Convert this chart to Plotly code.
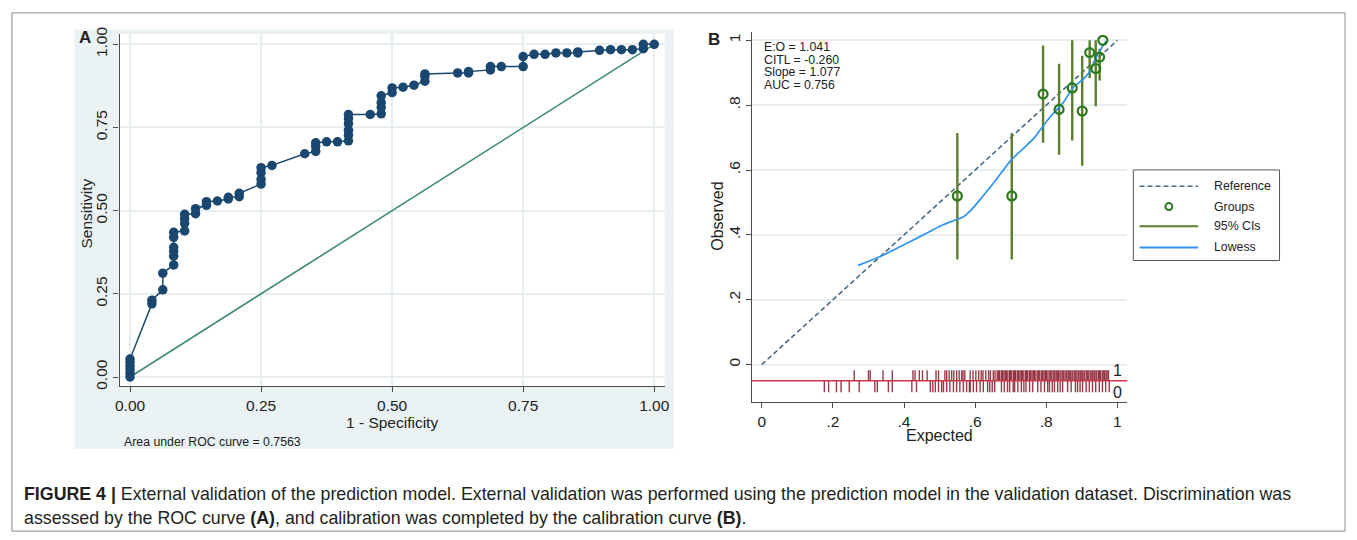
import plotly.graph_objects as go

W, H = 1357, 540

# ---------------- Panel A : ROC curve ----------------
roc_fpr = [0, 0, 0, 0, 0, 0,
           0.0417, 0.0417, 0.0625, 0.0625,
           0.0833, 0.0833, 0.0833, 0.0833, 0.0833, 0.0833,
           0.1042, 0.1042, 0.1042, 0.1042, 0.125, 0.125,
           0.1458, 0.1458, 0.1667, 0.1875, 0.1875, 0.2083, 0.2083,
           0.25, 0.25, 0.25, 0.25, 0.2708, 0.3333,
           0.3542, 0.3542, 0.3542, 0.375, 0.3958,
           0.4167, 0.4167, 0.4167, 0.4167, 0.4167, 0.4167,
           0.4583, 0.4792, 0.4792, 0.4792, 0.4792,
           0.5, 0.5, 0.5208, 0.5417, 0.5625, 0.5625, 0.5625,
           0.625, 0.6458, 0.6458, 0.6875, 0.6875, 0.7083,
           0.75, 0.75, 0.7708, 0.7917, 0.8125, 0.8333, 0.8542, 0.8542,
           0.8958, 0.9167, 0.9375, 0.9583, 0.9792, 0.9792, 1.0]
roc_tpr = [0, 0.011, 0.022, 0.033, 0.044, 0.054,
           0.22, 0.231, 0.262, 0.312,
           0.337, 0.363, 0.378, 0.39, 0.42, 0.435,
           0.439, 0.462, 0.476, 0.489, 0.491, 0.506,
           0.516, 0.527, 0.529, 0.535, 0.54, 0.542, 0.552,
           0.58, 0.594, 0.614, 0.629, 0.636, 0.671,
           0.678, 0.693, 0.704, 0.707, 0.707,
           0.71, 0.727, 0.742, 0.761, 0.776, 0.789,
           0.789, 0.791, 0.81, 0.825, 0.845,
           0.855, 0.869, 0.871, 0.877, 0.889, 0.904, 0.911,
           0.914, 0.914, 0.918, 0.923, 0.933, 0.933,
           0.933, 0.963, 0.97, 0.97, 0.974, 0.974, 0.974, 0.977,
           0.982, 0.984, 0.984, 0.984, 0.987, 1.0, 1.0]
diag_x = [0, 1]
diag_y = [0, 1]
roc_ticks = [0, 0.25, 0.5, 0.75, 1.0]
roc_ticktext = ["0.00", "0.25", "0.50", "0.75", "1.00"]
auc_label = "Area under ROC curve = 0.7563"

# ---------------- Panel B : calibration ----------------
group_expected = [0.55, 0.703, 0.791, 0.836, 0.873, 0.901, 0.922, 0.939, 0.95, 0.959]
group_observed = [0.52, 0.52, 0.834, 0.787, 0.853, 0.782, 0.962, 0.913, 0.948, 1.0]
ci_lower = [0.324, 0.324, 0.684, 0.647, 0.691, 0.613, 0.884, 0.797, 0.876, 1.0]
ci_upper = [0.714, 0.714, 0.984, 0.928, 1.0, 0.952, 1.0, 1.0, 0.974, 1.0]
lowess_x = [0.271, 0.328, 0.393, 0.449, 0.505, 0.542, 0.566, 0.589, 0.617, 0.654,
            0.700, 0.738, 0.766, 0.784, 0.812, 0.849, 0.877, 0.905, 0.924, 0.942,
            0.956, 0.968]
lowess_y = [0.306, 0.331, 0.366, 0.397, 0.429, 0.445, 0.455, 0.477, 0.513, 0.563,
            0.629, 0.669, 0.699, 0.725, 0.765, 0.81, 0.856, 0.881, 0.906, 0.951,
            0.977, 0.997]
ref_x = [0, 1]
ref_y = [0, 1]
rug_events = [0.26, 0.30, 0.305, 0.341, 0.367, 0.425, 0.431, 0.443, 0.452, 0.465,
              0.49, 0.497, 0.515, 0.52, 0.527, 0.534, 0.54, 0.548, 0.555, 0.562,
              0.566, 0.571, 0.586, 0.594, 0.602, 0.61, 0.617, 0.622, 0.63, 0.638,
              0.643, 0.651, 0.656, 0.662, 0.666, 0.669, 0.674, 0.677, 0.681, 0.685,
              0.688, 0.692, 0.697, 0.699, 0.703, 0.708, 0.711, 0.714, 0.719, 0.722,
              0.726, 0.73, 0.733, 0.737, 0.742, 0.745, 0.748, 0.753, 0.756, 0.76,
              0.764, 0.767, 0.771, 0.776, 0.779, 0.782, 0.787, 0.79, 0.794, 0.798,
              0.801, 0.805, 0.81, 0.813, 0.816, 0.821, 0.824, 0.828, 0.832, 0.835,
              0.839, 0.844, 0.847, 0.85, 0.855, 0.858, 0.862, 0.866, 0.869, 0.873,
              0.878, 0.881, 0.884, 0.889, 0.892, 0.896, 0.9, 0.903, 0.907, 0.912,
              0.915, 0.918, 0.923, 0.926, 0.93, 0.934, 0.937, 0.941, 0.946, 0.949,
              0.952, 0.957, 0.96, 0.964, 0.968, 0.971, 0.975]
rug_nonevents = [0.176, 0.188, 0.21, 0.223, 0.246, 0.274, 0.318, 0.325, 0.356, 0.367,
                 0.422, 0.435, 0.474, 0.481, 0.488, 0.497, 0.506, 0.511, 0.52, 0.529,
                 0.539, 0.548, 0.557, 0.567, 0.576, 0.584, 0.586, 0.595, 0.604, 0.614,
                 0.623, 0.635, 0.641, 0.648, 0.655, 0.674, 0.682, 0.691, 0.697, 0.707,
                 0.711, 0.72, 0.73, 0.737, 0.743, 0.753, 0.762, 0.776, 0.785, 0.795,
                 0.804, 0.809, 0.817, 0.823, 0.832, 0.839, 0.846, 0.86, 0.87, 0.882,
                 0.888, 0.895, 0.902, 0.912, 0.921, 0.93, 0.939, 0.949, 0.958, 0.967,
                 0.977]
cal_ticks = [0, 0.2, 0.4, 0.6, 0.8, 1.0]
cal_ticktext = ["0", ".2", ".4", ".6", ".8", "1"]
stats_lines = ["E:O = 1.041", "CITL = -0.260", "Slope = 1.077", "AUC = 0.756"]
legend_labels = ["Reference", "Groups", "95% CIs", "Lowess"]

caption_line1 = ("<b>FIGURE 4 |</b> External validation of the prediction model. External validation "
                 "was performed using the prediction model in the validation dataset. Discrimination was")
caption_line2 = ("assessed by the ROC curve <b>(A)</b>, and calibration was completed by the "
                 "calibration curve <b>(B)</b>.")

# ---------------- styles ----------------
NAVY = "#1a476f"
DIAG = "#3f8c70"
REFC = "#4a6a85"
GRP = "#2a7a1c"
CIC = "#5b7f2a"
LOW = "#2f93f2"
RUGC = "rgba(135,25,40,0.85)"
RUGLINE = "#c9364b"
GRID = "#e6eef0"
AX = "#4d4d4d"
FONT = "Liberation Sans, Arial, sans-serif"


def px(x):
    return x / W


def py(y):
    return 1 - y / H


fig = go.Figure()

# Panel A traces
fig.add_trace(go.Scatter(x=diag_x, y=diag_y, mode="lines",
                         line=dict(color=DIAG, width=1.6), xaxis="x", yaxis="y",
                         showlegend=False, hoverinfo="skip"))
fig.add_trace(go.Scatter(x=roc_fpr, y=roc_tpr, mode="lines+markers",
                         line=dict(color=NAVY, width=1.5),
                         marker=dict(color=NAVY, size=9.5),
                         xaxis="x", yaxis="y", showlegend=False))

# Panel B traces
fig.add_trace(go.Scatter(x=ref_x, y=ref_y, mode="lines",
                         line=dict(color=REFC, width=1.6, dash="5px,3px"),
                         xaxis="x2", yaxis="y2", showlegend=False))
ci_x, ci_y = [], []
for gx, lo, hi in zip(group_expected, ci_lower, ci_upper):
    ci_x += [gx, gx, None]
    ci_y += [lo, hi, None]
fig.add_trace(go.Scatter(x=ci_x, y=ci_y, mode="lines",
                         line=dict(color=CIC, width=2.4),
                         xaxis="x2", yaxis="y2", showlegend=False))
fig.add_trace(go.Scatter(x=lowess_x, y=lowess_y, mode="lines",
                         line=dict(color=LOW, width=1.7, shape="spline", smoothing=0.8),
                         xaxis="x2", yaxis="y2", showlegend=False))
fig.add_trace(go.Scatter(x=group_expected, y=group_observed, mode="markers",
                         marker=dict(symbol="circle-open", color=GRP, size=9,
                                     line=dict(width=2.2, color=GRP)),
                         xaxis="x2", yaxis="y2", showlegend=False))

RUG_MID, RUG_TOP, RUG_BOT = -0.0496, -0.017, -0.085
for vals, y_end in ((rug_events, RUG_TOP), (rug_nonevents, RUG_BOT)):
    rx, ry = [], []
    for v in vals:
        rx += [v, v, None]
        ry += [RUG_MID, y_end, None]
    fig.add_trace(go.Scatter(x=rx, y=ry, mode="lines",
                             line=dict(color=RUGC, width=1.4),
                             xaxis="x2", yaxis="y2", showlegend=False, hoverinfo="skip"))

axis_common = dict(showline=True, linecolor=AX, linewidth=1.2, ticks="outside",
                   ticklen=5, tickcolor=AX, tickwidth=1.2, zeroline=False,
                   tickfont=dict(family=FONT, size=15.5, color="#222"))

fig.update_layout(
    width=W, height=H, margin=dict(l=0, r=0, t=0, b=0),
    paper_bgcolor="white", plot_bgcolor="white",
    xaxis=dict(domain=[px(115.4), px(664.6)], range=[-0.02, 1.02], anchor="y",
               tickvals=roc_ticks, ticktext=roc_ticktext,
               showgrid=True, gridcolor=GRID, gridwidth=1.6, **axis_common),
    yaxis=dict(domain=[py(386.3), py(27.5)], range=[-0.0275, 1.031], anchor="x",
               tickvals=roc_ticks, ticktext=roc_ticktext, tickangle=-90,
               showgrid=True, gridcolor=GRID, gridwidth=1.6, **axis_common),
    xaxis2=dict(domain=[px(752.7), px(1130.7)], range=[-0.027, 1.028], anchor="y2",
                tickvals=cal_ticks, ticktext=cal_ticktext, showgrid=False, **axis_common),
    yaxis2=dict(domain=[py(402.7), py(25)], range=[-0.116, 1.027], anchor="x2",
                tickvals=cal_ticks, ticktext=cal_ticktext, tickangle=-90,
                showgrid=True, gridcolor=GRID, gridwidth=1.6, **axis_common),
)

shapes = []
# panel A background
shapes.append(dict(type="rect", xref="paper", yref="paper", layer="below",
                   x0=px(70), x1=px(674), y0=py(450), y1=py(23),
                   fillcolor="#eaf2f3", line=dict(width=0)))
shapes.append(dict(type="rect", xref="paper", yref="paper", layer="below",
                   x0=px(115.4), x1=px(664.6), y0=py(386.3), y1=py(27.5),
                   fillcolor="white", line=dict(width=0)))
# rug baseline
shapes.append(dict(type="line", xref="x2 domain", yref="y2", x0=0, x1=1,
                   y0=RUG_MID, y1=RUG_MID, line=dict(color=RUGLINE, width=1.4)))
# outer frame
shapes.append(dict(type="rect", xref="paper", yref="paper",
                   x0=px(7), x1=px(1350), y0=py(534), y1=py(6),
                   line=dict(color="#8c8c8c", width=1), fillcolor="rgba(0,0,0,0)"))
# legend box
LX0, LX1, LY0, LY1 = 1136.7, 1284, 166, 258.3
shapes.append(dict(type="rect", xref="paper", yref="paper",
                   x0=px(LX0), x1=px(LX1), y0=py(LY1), y1=py(LY0),
                   line=dict(color="#555", width=1), fillcolor="white"))
leg_y = [182.7, 203.3, 223.3, 245]
shapes.append(dict(type="line", xref="paper", yref="paper", x0=px(1143), x1=px(1202),
                   y0=py(leg_y[0]), y1=py(leg_y[0]),
                   line=dict(color=REFC, width=1.6, dash="5px,3px")))
shapes.append(dict(type="circle", xref="paper", yref="paper",
                   x0=px(1169), x1=px(1176), y0=py(leg_y[1] + 3.5), y1=py(leg_y[1] - 3.5),
                   line=dict(color=GRP, width=2)))
shapes.append(dict(type="line", xref="paper", yref="paper", x0=px(1143), x1=px(1202),
                   y0=py(leg_y[2]), y1=py(leg_y[2]), line=dict(color=CIC, width=2)))
shapes.append(dict(type="line", xref="paper", yref="paper", x0=px(1143), x1=px(1202),
                   y0=py(leg_y[3]), y1=py(leg_y[3]), line=dict(color=LOW, width=2)))
fig.update_layout(shapes=shapes)

ann = []


def text(x, y, s, size, **kw):
    d = dict(xref="paper", yref="paper", x=px(x), y=py(y), text=s, showarrow=False,
             font=dict(family=kw.pop("family", FONT), size=size, color=kw.pop("color", "#222")),
             xanchor=kw.pop("xanchor", "center"), yanchor=kw.pop("yanchor", "middle"))
    d.update(kw)
    ann.append(d)


text(81, 31, "<b>A</b>", 17)
text(714, 33, "<b>B</b>", 17)
text(390, 423, "1 - Specificity", 15.5)
text(82, 210, "Sensitivity", 15.5, textangle=-90)
text(118, 443, auc_label, 12.3, xanchor="left")
text(941, 437, "Expected", 16)
text(717, 213, "Observed", 16, textangle=-90)
for i, s in enumerate(stats_lines):
    text(762.5, 40.7 + i * 12.9, s, 12.3, xanchor="left")
for ly, s in zip(leg_y, legend_labels):
    text(1216, ly, s, 12.3, xanchor="left")
# rug labels
ann.append(dict(xref="x2", yref="y2", x=1.0, y=RUG_TOP, text="1", showarrow=False,
                font=dict(family=FONT, size=16, color="#222")))
ann.append(dict(xref="x2", yref="y2", x=1.0, y=RUG_BOT, text="0", showarrow=False,
                font=dict(family=FONT, size=16, color="#222")))
# caption
CAPF = "Liberation Sans, Arial, sans-serif"
text(17, 496, caption_line1, 17.8, xanchor="left", family=CAPF, color="#231f20")
text(17, 521, caption_line2, 17.8, xanchor="left", family=CAPF, color="#231f20")
fig.update_layout(annotations=ann)

fig.write_html("out.html", config={"displayModeBar": False},
               post_script="document.body.style.margin='0';document.body.style.overflow='hidden';")
